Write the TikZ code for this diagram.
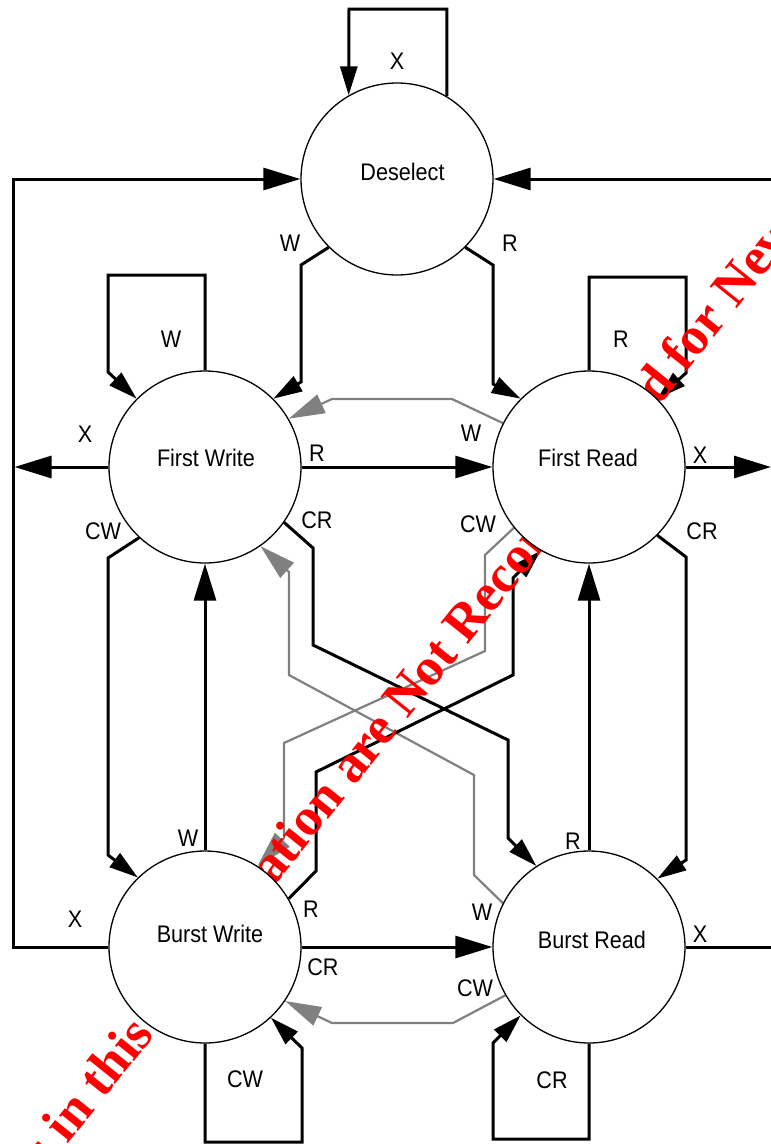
\documentclass[tikz,border=0pt]{standalone}
\usepackage{fontspec}
\setmainfont{Liberation Sans}[FakeStretch=0.9]
\newfontfamily\wmfont{Liberation Serif}
\usetikzlibrary{arrows.meta}
\definecolor{edgegray}{RGB}{128,128,128}
\definecolor{wmred}{RGB}{255,0,0}
\pgfdeclarelayer{edges}
\pgfdeclarelayer{wmark}
\pgfsetlayers{edges,wmark,main}
\begin{document}
\begin{tikzpicture}[x=1pt,y=-1pt,
  state/.style={circle,draw=black,line width=1.3pt,fill=white,minimum size=192pt,inner sep=0pt},
  stname/.style={inner sep=0pt,font=\fontsize{24}{28}\selectfont},
  lbl/.style={inner sep=0pt,font=\fontsize{24}{28}\selectfont},
  conn/.style={line width=3pt,draw=black},
  bigarrow/.style={conn,-{Triangle[length=37pt,width=22pt]}},
  smallarrow/.style={conn,-{Triangle[length=29pt,width=17pt]}},
  grayarrow/.style={line width=2.2pt,draw=edgegray,-{Triangle[length=36pt,width=20pt,fill=edgegray]}},
  ]
\useasboundingbox (0,0) rectangle (771,1144);

% states
\node[state] (ds) at (397,179) {};
\node[state] (fw) at (205,467) {};
\node[state] (fr) at (589,467) {};
\node[state] (bw) at (205,947) {};
\node[state] (br) at (589,947) {};

\node[stname] (dst) at (402.5,171.5) {Deselect};
\node[stname] (fwt) at (206,458) {First Write};
\node[stname] (frt) at (588,458) {First Read};
\node[stname] (bwt) at (210,934) {Burst Write};
\node[stname] (brt) at (592,939.5) {Burst Read};

\begin{pgfonlayer}{edges}
\draw[smallarrow] (ds.59.3) |- (349,9) -- (ds.120);
\draw[bigarrow] (bw.west) -- (13,947) -- (13,179) -- (ds.west);
\draw[bigarrow] (fw.west) -- (14.5,467);
\draw[bigarrow] (772,179) -- (ds.east);
\draw[bigarrow] (fr.east) -- (771,467);
\draw[conn] (br.east) -- (772,947);
\draw[smallarrow] (ds.-135) -- (301,265) -- (301,382) -- (fw.45);
\draw[smallarrow] (ds.-45) -- (493,265) -- (493,384) -- (fr.135);
\draw[smallarrow] (fw.north) -- (205,275) -- (108,275) -- (108,372) -- (fw.135);
\draw[smallarrow] (fr.north) -- (589,277) -- (686,277) -- (686,373) -- (fr.45);
\draw[bigarrow] (fw.east) -- (fr.west);
\draw[grayarrow] (fr.153) -- (452,399) -- (332,399) -- (fw.30);
\draw[smallarrow] (fw.-35) -- (313,548) -- (313,645) -- (508,740) -- (508,838) -- (br.123);
\draw[smallarrow] (fw.-133) -- (108,558) -- (108,855) -- (bw.134);
\draw[bigarrow] (bw.north) -- (fw.south);
\draw[bigarrow] (br.north) -- (fr.south);
\draw[smallarrow] (fr.-45) -- (686,557) -- (686,860) -- (br.45);
\draw[grayarrow] (fr.-141) -- (485,555) -- (485,651) -- (284,743) -- (284,838) -- (bw.57.6);
\draw[grayarrow] (br.153) -- (474,875) -- (474,775) -- (289,675) -- (289,572) -- (fw.-55);
\draw[smallarrow] (bw.30) -- (316,871) -- (316,772) -- (513,675) -- (513,578) -- (fr.-120);
\draw[bigarrow] (bw.east) -- (br.west);
\draw[grayarrow] (br.-150) -- (453,1023) -- (332,1023) -- (bw.-34);
\draw[smallarrow] (bw.south) -- (205,1142) -- (302,1142) -- (302,1048) -- (bw.-47);
\draw[smallarrow] (br.south) -- (589,1139) -- (493,1139) -- (493,1043) -- (br.-135);
\end{pgfonlayer}

\begin{pgfonlayer}{wmark}
\node[rotate=51.3,anchor=base west,inner sep=0pt,text=wmred,
  font=\wmfont\bfseries\fontsize{53}{60}\selectfont] (wm) at (-66.9,1312.5)
  {Products in this Specification are Not Recommended for New Designs};
\end{pgfonlayer}

% labels
\node[lbl] (l1) at (397,61) {X};
\node[lbl] (l2) at (290,243) {W};
\node[lbl] (l3) at (510,243) {R};
\node[lbl] (l4) at (171,339) {W};
\node[lbl] (l5) at (621,339) {R};
\node[lbl] (l6) at (85,434) {X};
\node[lbl] (l7) at (317,453) {R};
\node[lbl] (l8) at (471,433) {W};
\node[lbl] (l9) at (700,455) {X};
\node[lbl] (l10) at (103,531) {CW};
\node[lbl] (l11) at (317,520) {CR};
\node[lbl] (l12) at (478,524) {CW};
\node[lbl] (l13) at (702,531) {CR};
\node[lbl] (l14) at (188,838) {W};
\node[lbl] (l15) at (573,841) {R};
\node[lbl] (l16) at (75,919) {X};
\node[lbl] (l17) at (311,909) {R};
\node[lbl] (l18) at (482,912) {W};
\node[lbl] (l19) at (700,934) {X};
\node[lbl] (l20) at (323,967) {CR};
\node[lbl] (l21) at (475,988) {CW};
\node[lbl] (l22) at (245,1079) {CW};
\node[lbl] (l23) at (552,1080) {CR};
\end{tikzpicture}
\end{document}
